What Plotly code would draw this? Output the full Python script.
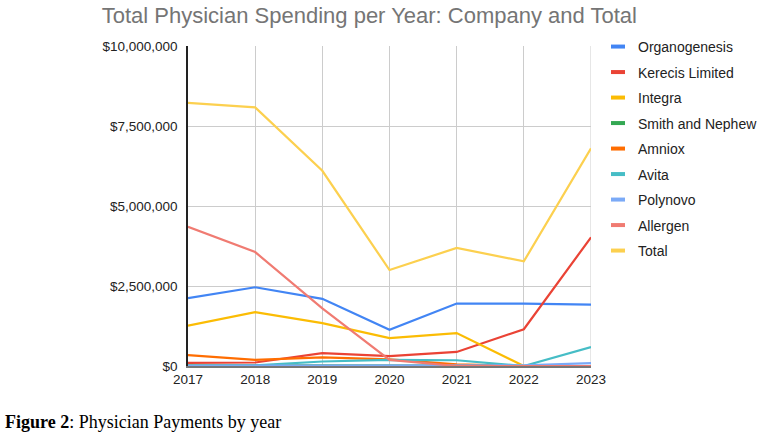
import plotly.graph_objects as go

years = [2017, 2018, 2019, 2020, 2021, 2022, 2023]
series_names = ["Organogenesis", "Kerecis Limited", "Integra", "Smith and Nephew",
                "Amniox", "Avita", "Polynovo", "Allergen", "Total"]
organogenesis = [2120000, 2460000, 2100000, 1130000, 1950000, 1950000, 1920000]
kerecis = [100000, 110000, 400000, 310000, 440000, 1150000, 4020000]
integra = [1260000, 1680000, 1340000, 870000, 1030000, 0, 0]
smith_nephew = [20000, 20000, 20000, 20000, 20000, 10000, 10000]
amniox = [340000, 190000, 270000, 210000, 50000, 0, 0]
avita = [0, 20000, 140000, 190000, 180000, 0, 590000]
polynovo = [10000, 10000, 20000, 20000, 20000, 20000, 90000]
allergen = [4350000, 3560000, 1800000, 190000, 0, 0, 0]
total = [8220000, 8080000, 6100000, 3000000, 3690000, 3270000, 6800000]
colors = ["#4285F4", "#EA4335", "#FBBC04", "#34A853", "#FF6D01",
          "#46BDC6", "#7BAAF7", "#F07B72", "#FCD04F"]
y_ticks = [0, 2500000, 5000000, 7500000, 10000000]
y_tick_labels = ["$0", "$2,500,000", "$5,000,000", "$7,500,000", "$10,000,000"]

all_series = [organogenesis, kerecis, integra, smith_nephew, amniox, avita,
              polynovo, allergen, total]

fig = go.Figure()
for name, vals, col in zip(series_names, all_series, colors):
    fig.add_trace(go.Scatter(x=years, y=vals, mode="lines", name=name,
                             line=dict(color=col, width=2.2), showlegend=False))
for name, col in zip(series_names, colors):
    fig.add_trace(go.Scatter(x=[None], y=[None], mode="markers", name=name,
                             legendgroup=name,
                             marker=dict(symbol="line-ew", size=10,
                                         line=dict(color=col, width=4))))

fig.update_layout(
    width=760, height=438,
    margin=dict(l=188, r=169, t=46, b=72, autoexpand=False),
    paper_bgcolor="white", plot_bgcolor="white",
    font=dict(family="Liberation Sans, Arial, sans-serif", size=13.5, color="#222222"),
    title=dict(text="Total Physician Spending per Year: Company and Total",
               font=dict(size=22, color="#757575"),
               x=0.486, xanchor="center", y=0.965, yanchor="middle"),
    legend=dict(x=(598 - 188) / 403, y=1.047, xanchor="left", yanchor="top",
                tracegroupgap=4.3, itemwidth=30, maxheight=420,
                font=dict(size=14, color="#222222"), bgcolor="rgba(0,0,0,0)"),
    showlegend=True,
)
fig.update_xaxes(range=[2017, 2023], tickmode="array", tickvals=years,
                 ticktext=[str(y) for y in years],
                 showgrid=True, gridcolor="#cccccc", gridwidth=1,
                 zeroline=False, showline=True, linecolor="#777777", linewidth=2,
                 mirror=False, ticks="", tickfont=dict(size=13.5))
fig.update_yaxes(range=[0, 10000000], tickmode="array", tickvals=y_ticks,
                 ticktext=y_tick_labels, showgrid=True, gridcolor="#cccccc",
                 gridwidth=1, zeroline=False, showline=True, linecolor="#222222",
                 linewidth=1.5, ticks="", ticklabelstandoff=6,
                 tickfont=dict(size=13.5))
fig.add_shape(type="line", xref="x", yref="paper", x0=2023, x1=2023, y0=0, y1=1,
              line=dict(color="#cccccc", width=1), layer="below")

fig.add_annotation(text="<b>Figure 2</b>: Physician Payments by year",
                   xref="paper", yref="paper", x=(3 - 188) / 403, y=(366 - 422) / 320,
                   xanchor="left", yanchor="middle", showarrow=False,
                   font=dict(family="Liberation Serif, Times New Roman, serif",
                             size=18, color="#000000"))

fig.write_html("out.html")
